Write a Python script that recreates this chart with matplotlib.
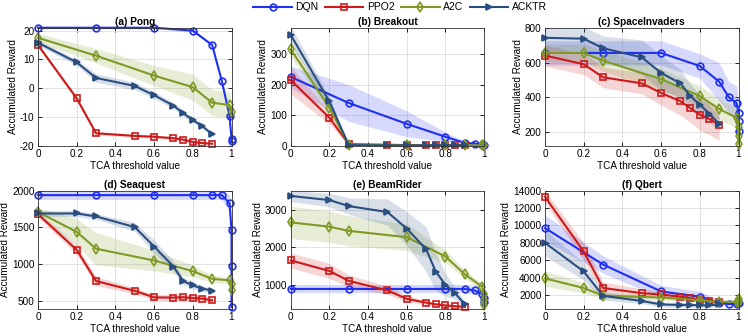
import numpy as np
import matplotlib
matplotlib.use('Agg')
import matplotlib.pyplot as plt

plt.rcParams['font.family'] = ['Liberation Sans', 'DejaVu Sans']
plt.rcParams['axes.unicode_minus'] = False

# common x grid for PPO2 / ACKTR
x_pa = [0, 0.2, 0.3, 0.5, 0.6, 0.7, 0.75, 0.8, 0.85, 0.9]

# (a) Pong
pong_dqn_x = [0, 0.3, 0.6, 0.8, 0.9, 0.95, 0.99, 1.0, 1.0]
pong_dqn_y = [21, 21, 21, 20, 15, 2.5, -9.6, -17.5, -18.3]
pong_dqn_s = [0.4, 0.4, 0.4, 0.5, 0.6, 0.8, 1.0, 0.8, 0.8]
pong_ppo_y = [15, -3.5, -15.6, -16.5, -16.8, -17.3, -17.8, -18.6, -19, -19.2]
pong_ppo_s = [0.6, 0.8, 0.6, 0.5, 0.5, 0.5, 0.5, 0.5, 0.4, 0.4]
pong_a2c_x = [0, 0.3, 0.6, 0.8, 0.9, 0.99, 1.0]
pong_a2c_y = [17.5, 11.3, 4.4, 0.4, -5, -5.8, -8.3]
pong_a2c_s = [1.5, 2.5, 3.5, 4.5, 4.5, 4.5, 1.5]
pong_ack_y = [15.8, 9, 3.6, 0.8, -2.4, -6, -8.6, -11, -13.2, -15.9]
pong_ack_s = [1.0, 1.0, 1.5, 1.3, 1.2, 1.0, 1.0, 0.8, 0.6, 0.5]

# (b) Breakout
brk_dqn_x = [0, 0.3, 0.6, 0.8, 0.9, 0.95, 0.99, 1.0]
brk_dqn_y = [225, 140, 72, 30, 10, 8, 4, 3]
brk_dqn_s = [35, 60, 42, 15, 5, 4, 2, 2]
brk_ppo_y = [215, 92, 6, 4, 3, 3, 3, 3, 3, 3]
brk_ppo_s = [45, 20, 2, 1, 1, 1, 1, 1, 1, 1]
brk_a2c_x = [0, 0.2, 0.3, 0.6, 0.8, 0.9, 0.99, 1.0]
brk_a2c_y = [315, 125, 4, 2, 2, 2, 2, 2]
brk_a2c_s = [25, 15, 2, 1, 1, 1, 1, 1]
brk_ack_y = [362, 145, 3, 2, 2, 2, 2, 2, 2, 2]
brk_ack_s = [30, 15, 1, 1, 1, 1, 1, 1, 1, 1]

# (c) SpaceInvaders
spi_dqn_x = [0, 0.3, 0.6, 0.8, 0.9, 0.95, 0.99, 1.0, 1.0, 1.0]
spi_dqn_y = [655, 655, 655, 580, 490, 400, 367, 312, 262, 207]
spi_dqn_s = [70, 70, 70, 70, 110, 90, 100, 60, 60, 60]
spi_ppo_y = [640, 590, 515, 480, 425, 377, 338, 300, 275, 242]
spi_ppo_s = [60, 60, 60, 60, 70, 80, 80, 90, 90, 90]
spi_a2c_x = [0, 0.2, 0.3, 0.6, 0.8, 0.9, 0.99, 1.0, 1.0, 1.0]
spi_a2c_y = [655, 655, 610, 505, 407, 333, 282, 232, 175, 133]
spi_a2c_s = [50, 50, 60, 60, 60, 60, 60, 40, 40, 40]
spi_ack_y = [742, 737, 682, 630, 540, 480, 408, 358, 305, 248]
spi_ack_s = [70, 70, 70, 100, 100, 80, 70, 60, 50, 40]

# (d) Seaquest
sea_dqn_x = [0, 0.3, 0.6, 0.8, 0.9, 0.95, 0.99, 1.0, 1.0, 1.0]
sea_dqn_y = [1940, 1940, 1940, 1940, 1940, 1940, 1830, 1460, 980, 415]
sea_dqn_s = [60, 60, 60, 60, 60, 60, 120, 150, 150, 50]
sea_ppo_y = [1680, 1195, 770, 637, 548, 545, 550, 540, 530, 508]
sea_ppo_s = [40, 60, 60, 40, 40, 40, 40, 40, 40, 40]
sea_a2c_x = [0, 0.2, 0.3, 0.6, 0.8, 0.9, 0.99, 1.0, 1.0]
sea_a2c_y = [1710, 1440, 1210, 1050, 905, 800, 780, 730, 650]
sea_a2c_s = [60, 180, 220, 140, 80, 50, 40, 40, 40]
sea_ack_y = [1690, 1690, 1650, 1505, 1240, 968, 770, 710, 668, 640]
sea_ack_s = [40, 40, 40, 60, 90, 70, 50, 40, 40, 30]

# (e) BeamRider
bmr_dqn_x = [0, 0.3, 0.6, 0.8, 0.9, 0.95, 0.99, 1.0, 1.0]
bmr_dqn_y = [890, 890, 890, 890, 890, 850, 750, 650, 550]
bmr_dqn_s = [100, 100, 100, 100, 100, 100, 80, 60, 60]
bmr_ppo_y = [1650, 1370, 1105, 850, 625, 525, 480, 450, 430, 410]
bmr_ppo_s = [200, 200, 160, 110, 80, 50, 40, 40, 40, 40]
bmr_a2c_x = [0, 0.2, 0.3, 0.6, 0.8, 0.9, 0.99, 1.0, 1.0, 1.0]
bmr_a2c_y = [2665, 2550, 2440, 2270, 1755, 1280, 950, 750, 600, 450]
bmr_a2c_s = [430, 420, 400, 350, 170, 110, 80, 60, 60, 60]
bmr_ack_y = [3370, 3260, 3100, 2940, 2500, 1950, 1350, 1000, 770, 480]
bmr_ack_s = [150, 180, 220, 350, 450, 600, 500, 300, 150, 80]

# (f) Qbert
qbt_dqn_x = [0, 0.3, 0.6, 0.8, 0.9, 0.95, 0.99, 1.0]
qbt_dqn_y = [9700, 5500, 2400, 1800, 1100, 950, 1000, 1100]
qbt_dqn_s = [1500, 1000, 700, 600, 300, 200, 200, 200]
qbt_ppo_y = [13300, 7000, 2800, 2200, 2050, 1800, 1650, 1450, 1300, 1150]
qbt_ppo_s = [700, 1000, 700, 500, 400, 350, 300, 300, 250, 200]
qbt_a2c_x = [0, 0.2, 0.3, 0.6, 0.8, 0.9, 0.99, 1.0, 1.0]
qbt_a2c_y = [3900, 2800, 1900, 1700, 1400, 1200, 1200, 1500, 1200]
qbt_a2c_s = [900, 600, 300, 300, 300, 250, 200, 200, 200]
qbt_ack_y = [8000, 4700, 1900, 1300, 900, 850, 850, 800, 800, 900]
qbt_ack_s = [1500, 1000, 500, 300, 300, 250, 250, 250, 250, 200]

names = ['DQN', 'PPO2', 'A2C', 'ACKTR']
colors = ['#2030f0', '#cc1a1a', '#7f9a22', '#2a4e80']
markers = ['o', 's', 'd', '>']

panels = [
    ('(a) Pong', (-20, 21), [-20, -10, 0, 10, 20],
     [(pong_dqn_x, pong_dqn_y, pong_dqn_s), (x_pa, pong_ppo_y, pong_ppo_s),
      (pong_a2c_x, pong_a2c_y, pong_a2c_s), (x_pa, pong_ack_y, pong_ack_s)]),
    ('(b) Breakout', (0, 385), [0, 100, 200, 300],
     [(brk_dqn_x, brk_dqn_y, brk_dqn_s), (x_pa, brk_ppo_y, brk_ppo_s),
      (brk_a2c_x, brk_a2c_y, brk_a2c_s), (x_pa, brk_ack_y, brk_ack_s)]),
    ('(c) SpaceInvaders', (120, 800), [200, 400, 600, 800],
     [(spi_dqn_x, spi_dqn_y, spi_dqn_s), (x_pa, spi_ppo_y, spi_ppo_s),
      (spi_a2c_x, spi_a2c_y, spi_a2c_s), (x_pa, spi_ack_y, spi_ack_s)]),
    ('(d) Seaquest', (390, 2000), [500, 1000, 1500, 2000],
     [(sea_dqn_x, sea_dqn_y, sea_dqn_s), (x_pa, sea_ppo_y, sea_ppo_s),
      (sea_a2c_x, sea_a2c_y, sea_a2c_s), (x_pa, sea_ack_y, sea_ack_s)]),
    ('(e) BeamRider', (355, 3510), [1000, 2000, 3000],
     [(bmr_dqn_x, bmr_dqn_y, bmr_dqn_s), (x_pa, bmr_ppo_y, bmr_ppo_s),
      (bmr_a2c_x, bmr_a2c_y, bmr_a2c_s), (x_pa, bmr_ack_y, bmr_ack_s)]),
    ('(f) Qbert', (380, 14000), list(range(2000, 14001, 2000)),
     [(qbt_dqn_x, qbt_dqn_y, qbt_dqn_s), (x_pa, qbt_ppo_y, qbt_ppo_s),
      (qbt_a2c_x, qbt_a2c_y, qbt_a2c_s), (x_pa, qbt_ack_y, qbt_ack_s)]),
]

fig = plt.figure(figsize=(7.48, 3.36), dpi=100)
lefts = [0.0508, 0.3886, 0.7286]
bottoms = [0.5655, 0.0804]
w, h = 0.2587, 0.352

handles = []
for i, (title, ylim, yt, series) in enumerate(panels):
    ax = fig.add_axes([lefts[i % 3], bottoms[i // 3], w, h])
    for k, (x, y, s) in enumerate(series):
        x = np.array(x); y = np.array(y); s = np.array(s)
        ax.fill_between(x, y - s, y + s, color=colors[k], alpha=0.18, lw=0)
        mfc = colors[k] if k == 3 else 'none'
        ln, = ax.plot(x, y, color=colors[k], marker=markers[k], ms=4.8,
                      mfc=mfc, mew=1.2, lw=1.5, label=names[k], clip_on=False)
        if i == 0:
            handles.append(ln)
    ax.set_xlim(0, 1)
    ax.set_ylim(*ylim)
    ax.set_xticks([0, 0.2, 0.4, 0.6, 0.8, 1])
    ax.set_xticklabels(['0', '0.2', '0.4', '0.6', '0.8', '1'])
    ax.set_yticks(yt)
    ax.tick_params(direction='in', labelsize=7.2, length=3, width=0.6,
                   top=True, right=True, pad=2.5)
    ax.grid(True, color='#dddddd', lw=0.6)
    ax.set_axisbelow(True)
    for sp in ax.spines.values():
        sp.set_linewidth(0.6)
        sp.set_color('#333333')
    ax.set_title(title, fontsize=7.3, fontweight='bold', pad=2)
    ax.set_xlabel('TCA threshold value', fontsize=7.2, labelpad=1)
    ax.set_ylabel('Accumulated Reward', fontsize=7.2, labelpad=1.5)

fig.legend(handles=handles, loc='center', bbox_to_anchor=(0.535, 0.978),
           ncol=4, frameon=False, fontsize=7.5, handlelength=3.7,
           columnspacing=0.6, handletextpad=0.35)

plt.savefig('out.png', dpi=100)
